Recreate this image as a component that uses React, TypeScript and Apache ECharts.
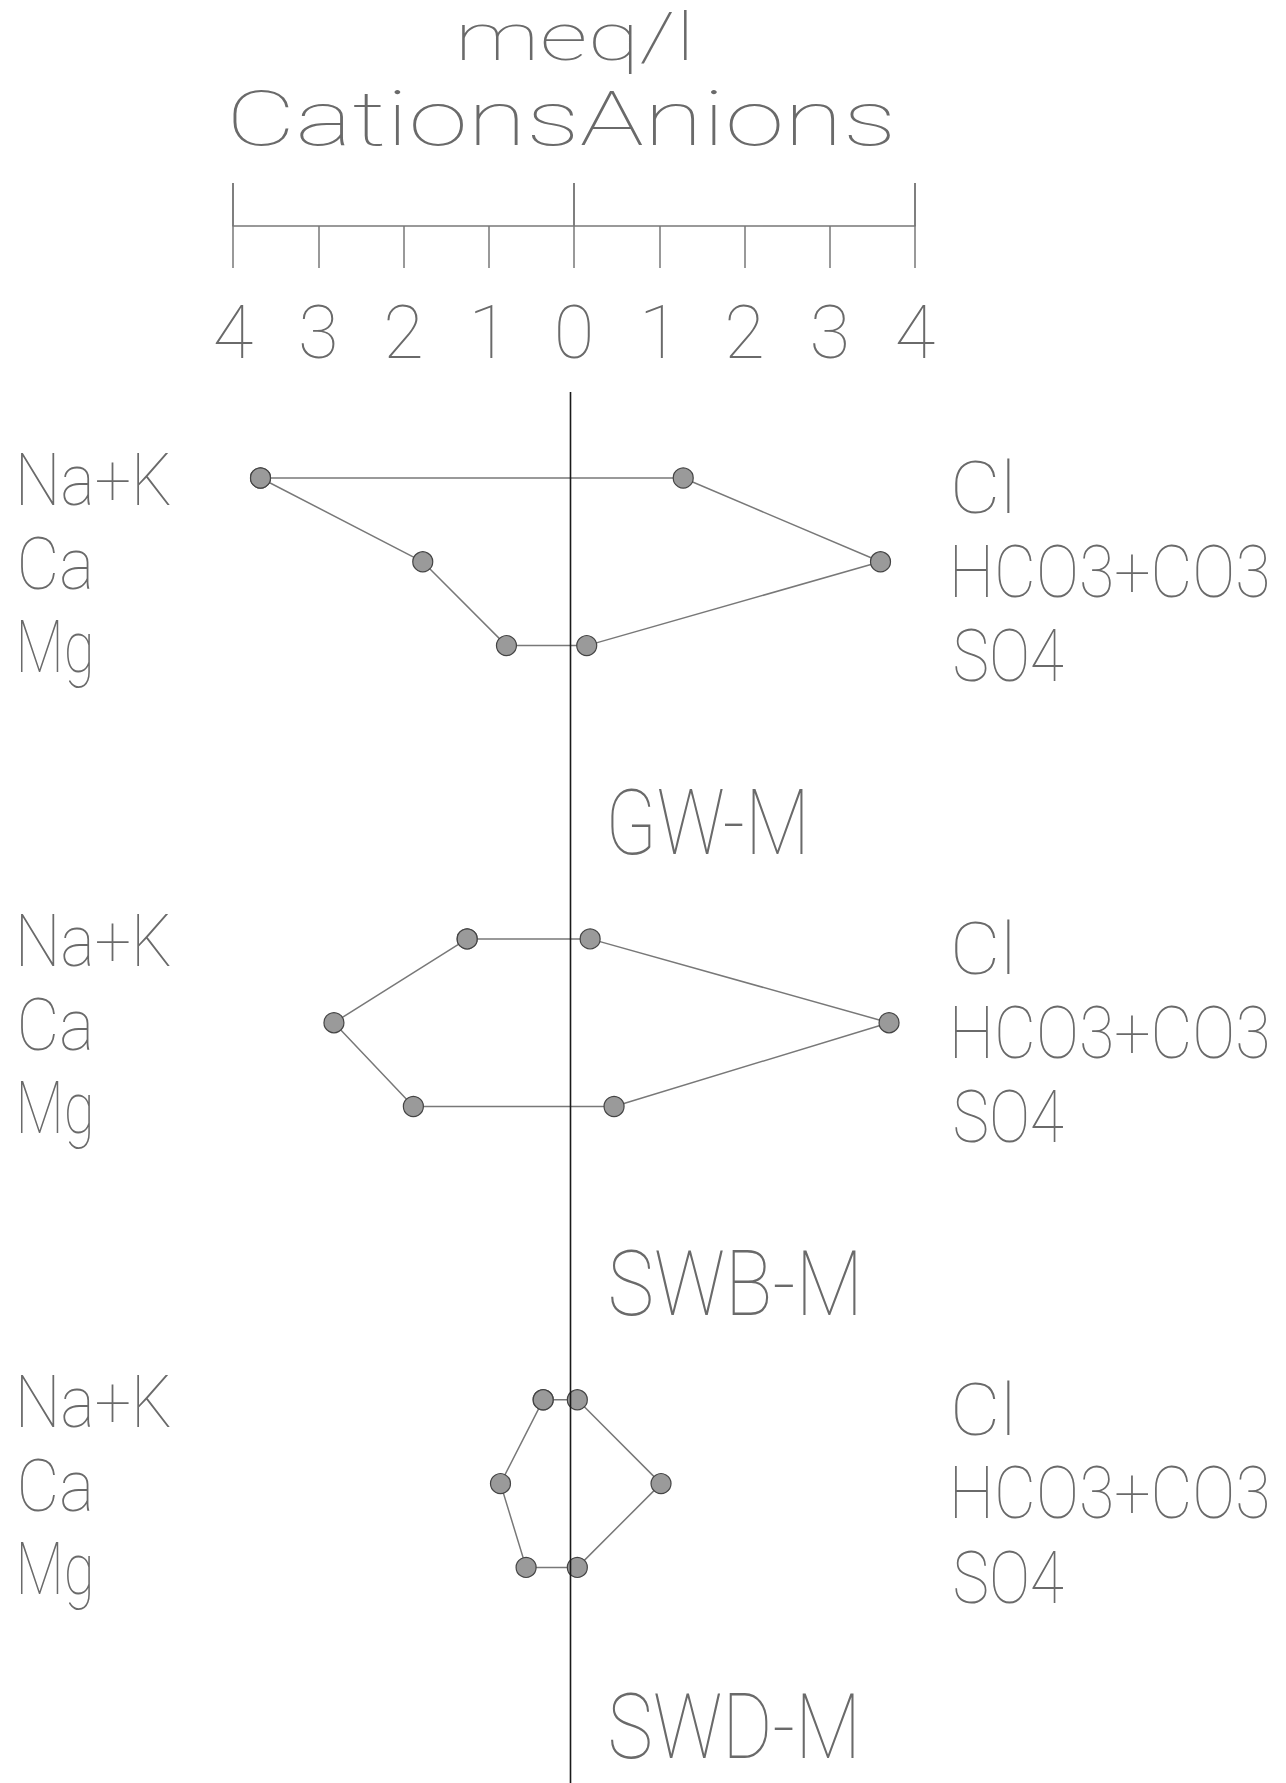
import React, { useEffect, useRef } from "react";
import * as echarts from "echarts";

// ---------------- data ----------------
const SAMPLES = ["GW-M", "SWB-M", "SWD-M"];
const CATIONS = ["Na+K", "Ca", "Mg"];
const ANIONS = ["Cl", "HCO3+CO3", "SO4"];
const GW_M_CATIONS = [3.63, 1.73, 0.75];
const GW_M_ANIONS = [1.32, 3.63, 0.19];
const SWB_M_CATIONS = [1.21, 2.77, 1.84];
const SWB_M_ANIONS = [0.23, 3.73, 0.51];
const SWD_M_CATIONS = [0.32, 0.82, 0.52];
const SWD_M_ANIONS = [0.08, 1.06, 0.08];
const TICK_VALUES = [-4, -3, -2, -1, 0, 1, 2, 3, 4];
const TICK_LABELS = ["4", "3", "2", "1", "0", "1", "2", "3", "4"];
const UNIT_TITLE = "meq/l";
const SIDE_TITLE = "CationsAnions";

// ---------------- layout ----------------
const W = 1286;
const H = 1783;
const ZERO_PX = 570.5;
const UNIT_PX = 85.4;
const ROW0_PX = 478;
const ROW_PX = 83.8;
const DIAGRAM_ROW = [0, 5.5, 11];
const ZERO_LINE_TOP = (392 - ROW0_PX) / ROW_PX;
const LEFT_LABEL_X = (21 - ZERO_PX) / UNIT_PX;
const RIGHT_LABEL_X = (955 - ZERO_PX) / UNIT_PX;
const NAME_X = (611 - ZERO_PX) / UNIT_PX;
const NAME_ROW = 4.12;
const LABEL_WIDTH: Record<string, number> = {
  "Na+K": 149, Ca: 69, Mg: 69, Cl: 55, "HCO3+CO3": 312, SO4: 108,
  "GW-M": 192, "SWB-M": 245, "SWD-M": 243,
};
const FONT_FAMILY = "Roboto";
const FONT_WEIGHT = 100;
const TEXT_COLOR = "#6a6a6a";
const LINE_COLOR = "#787878";

let measureCtx: CanvasRenderingContext2D | null = null;
function measure(text: string, size: number) {
  if (!measureCtx) measureCtx = document.createElement("canvas").getContext("2d");
  const c = measureCtx as CanvasRenderingContext2D;
  c.font = `${FONT_WEIGHT} ${size}px ${FONT_FAMILY}`;
  const m = c.measureText(text);
  return { left: m.actualBoundingBoxLeft, width: m.actualBoundingBoxLeft + m.actualBoundingBoxRight };
}

function fitText(text: string, size: number, inkLeft: number, inkWidth: number, centerY: number) {
  const m = measure(text, size);
  const sx = m.width > 0 ? inkWidth / m.width : 1;
  // keep the whole text box inside the page
  const maxCenter = H - 2 - 0.6 * size;
  return {
    type: "text",
    x: inkLeft + m.left * sx,
    y: Math.min(centerY, maxCenter),
    scaleX: sx,
    style: {
      text,
      fontSize: size,
      fontFamily: FONT_FAMILY,
      fontWeight: FONT_WEIGHT,
      fill: TEXT_COLOR,
      align: "left",
      verticalAlign: "middle",
    },
  };
}

const SAMPLE_DATA = [
  { cat: GW_M_CATIONS, an: GW_M_ANIONS },
  { cat: SWB_M_CATIONS, an: SWB_M_ANIONS },
  { cat: SWD_M_CATIONS, an: SWD_M_ANIONS },
];

function polygon(cat: number[], an: number[], base: number) {
  return [
    [-cat[0], base],
    [an[0], base],
    [an[1], base + 1],
    [an[2], base + 2],
    [-cat[2], base + 2],
    [-cat[1], base + 1],
    [-cat[0], base],
  ];
}

type Spec = { text: string; size: number; width: number; dy: number };
const LABEL_SPECS: Spec[] = [];
const LABEL_POINTS: number[][] = [];
SAMPLES.forEach((name, d) => {
  const base = DIAGRAM_ROW[d];
  CATIONS.forEach((c, k) => {
    LABEL_SPECS.push({ text: c, size: 73, width: LABEL_WIDTH[c], dy: 2 });
    LABEL_POINTS.push([LEFT_LABEL_X, base + k, LABEL_SPECS.length - 1]);
  });
  ANIONS.forEach((a, k) => {
    LABEL_SPECS.push({ text: a, size: 73, width: LABEL_WIDTH[a], dy: 10 });
    LABEL_POINTS.push([RIGHT_LABEL_X, base + k, LABEL_SPECS.length - 1]);
  });
  LABEL_SPECS.push({ text: name, size: 90, width: LABEL_WIDTH[name], dy: 0 });
  LABEL_POINTS.push([NAME_X, base + NAME_ROW, LABEL_SPECS.length - 1]);
});

export default function App() {
  const ref = useRef<HTMLDivElement>(null);
  useEffect(() => {
    if (!ref.current) return;
    const chart = echarts.init(ref.current, undefined, { renderer: "svg" });
    const polySeries = SAMPLE_DATA.map((s, d) => ({
      type: "line",
      name: SAMPLES[d],
      xAxisIndex: 2,
      yAxisIndex: 1,
      data: polygon(s.cat, s.an, DIAGRAM_ROW[d]),
      symbol: "circle",
      symbolSize: 20,
      showSymbol: true,
      lineStyle: { color: LINE_COLOR, width: 1.5 },
      itemStyle: { color: "#9a9a9a", borderColor: "#444", borderWidth: 1.2 },
      z: 2,
      silent: true,
    }));
    const option: any = {
      animation: false,
      backgroundColor: "#ffffff",
      grid: [
        { left: 233, width: 682, top: 183, height: 43 },
        { left: 0, right: 0, top: 0, bottom: 0 },
      ],
      xAxis: [
        {
          gridIndex: 0,
          type: "value",
          position: "bottom",
          min: -4,
          max: 4,
          interval: 1,
          axisLine: { show: true, lineStyle: { color: "#777", width: 1.5 } },
          axisTick: { show: true, length: 42, lineStyle: { color: "#777", width: 1.5 } },
          splitLine: { show: false },
          axisLabel: {
            show: true,
            margin: 106,
            verticalAlign: "middle",
            fontSize: 74,
            fontFamily: FONT_FAMILY,
            fontWeight: FONT_WEIGHT,
            color: TEXT_COLOR,
            showMinLabel: true,
            showMaxLabel: true,
            hideOverlap: false,
            formatter: (v: number) => TICK_LABELS[TICK_VALUES.indexOf(v)] ?? "",
          },
        },
        {
          gridIndex: 0,
          type: "value",
          position: "top",
          min: -4,
          max: 4,
          interval: 4,
          axisLine: { show: false },
          axisTick: { show: false },
          axisLabel: { show: false },
          splitLine: { show: true, lineStyle: { color: "#555", width: 1.5 } },
        },
        {
          gridIndex: 1,
          type: "value",
          min: -ZERO_PX / UNIT_PX,
          max: (W - ZERO_PX) / UNIT_PX,
          show: false,
        },
      ],
      yAxis: [
        { gridIndex: 0, type: "value", min: 0, max: 1, show: false },
        {
          gridIndex: 1,
          type: "value",
          inverse: true,
          min: -ROW0_PX / ROW_PX,
          max: (H - ROW0_PX) / ROW_PX,
          show: false,
        },
      ],
      graphic: [
        fitText(UNIT_TITLE, 66, 462, 225, 60 - 0.342 * 66),
        fitText(SIDE_TITLE, 76, 233, 658, 119),
      ],
      series: [
        ...polySeries,
        {
          type: "line",
          xAxisIndex: 2,
          yAxisIndex: 1,
          data: [
            [0, ZERO_LINE_TOP],
            [0, (H - ROW0_PX) / ROW_PX],
          ],
          symbol: "none",
          lineStyle: { color: "#1a1a1a", width: 1.6 },
          z: 3,
          silent: true,
        },
        {
          type: "custom",
          xAxisIndex: 2,
          yAxisIndex: 1,
          data: LABEL_POINTS,
          encode: { x: 0, y: 1 },
          silent: true,
          renderItem: (params: any, api: any) => {
            const spec = LABEL_SPECS[api.value(2)];
            const p = api.coord([api.value(0), api.value(1)]);
            return fitText(spec.text, spec.size, p[0], spec.width, p[1] + spec.dy);
          },
        },
      ],
    };
    chart.setOption(option);
    return () => chart.dispose();
  }, []);
  return (
    <div
      ref={ref}
      style={{ position: "absolute", left: 0, top: 0, width: W, height: H, background: "#fff" }}
    />
  );
}
